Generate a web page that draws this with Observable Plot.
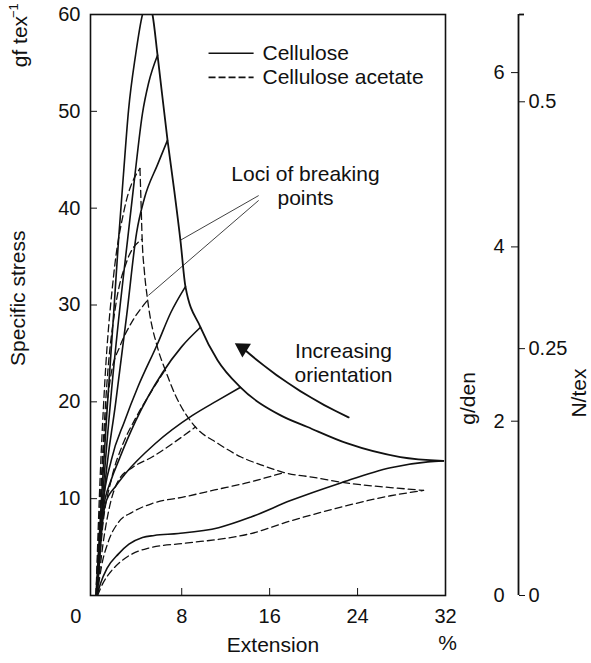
<!DOCTYPE html>
<html><head><meta charset="utf-8">
<script src="https://cdn.jsdelivr.net/npm/d3@7"></script>
<script src="https://cdn.jsdelivr.net/npm/@observablehq/plot@0.6"></script>
<style>
html,body{margin:0;padding:0;background:#fff;}
#chart svg{font-family:"Liberation Sans",Arial,Helvetica,sans-serif;}
</style></head><body><div id="chart"></div>
<script>
// ---- Data (extension %, specific stress gf/tex) ----
const cellulose1 = [[0.2,0],[0.7,10],[1.2,19],[1.8,29],[2.25,36.7],[2.7,43.5],[3.16,50.1],[3.8,55.8],[4.43,60],[4.9,61.3]];
const cellulose2 = [[0.25,0],[0.8,10],[1.6,21],[2.4,30],[3.07,36.7],[3.7,43],[4.43,49.8],[4.98,52.9],[5.8,55.8]];
const cellulose3 = [[0.3,0],[0.9,10],[2.0,20],[3.0,29],[3.9,37.5],[4.6,41],[5.8,44.5],[6.7,47]];
const cellulose4 = [[0.3,0],[0.8,9],[1.6,14],[2.8,18],[4.0,21.5],[5.8,26],[7.0,29.2],[8.34,31.9]];
const cellulose5 = [[0.3,0],[0.8,8.5],[1.6,12],[2.25,13.9],[3.8,18.0],[6.25,23],[8.0,25.7],[9.71,27.7]];
const cellulose6 = [[0.3,0],[0.7,6.5],[1.06,9.5],[2.0,11.3],[2.88,12.6],[5.6,15.7],[8.98,18.6],[11.2,20.1],[13.35,21.5]];
const cellulose7 = [[0.3,0],[0.6,1.2],[1.2,2.8],[2.25,4.3],[3.2,5.3],[4.43,6.0],[5.5,6.2],[7.7,6.4],[11.35,7.0],[14.3,8.1],[17.9,9.8],[22.4,11.6],[27.0,13.2],[30.4,13.8],[31.8,13.9]];
const acetate1 = [[0.35,0],[0.8,1.2],[1.5,2.4],[2.25,3.3],[3.5,4.3],[5.0,4.9],[8.3,5.4],[12.0,5.9],[14.3,6.4],[17.9,7.7],[22.4,9.1],[27.0,10.3],[30.0,10.85]];
const acetate2 = [[0.3,0],[0.7,3],[1.3,5.5],[2.2,7.5],[3.5,8.6],[5.3,9.5],[8.3,10.2],[11.0,10.9],[13.8,11.6],[17.3,12.7]];
const acetate3 = [[0.3,0],[0.8,5],[1.4,9],[2.25,11.9],[3.5,13.2],[5.3,14.3],[7.3,15.8],[9.25,17.4]];
const acetate4 = [[0.3,0],[0.8,7],[1.6,12],[2.6,15.5],[3.8,18.3],[5.2,21],[6.5,23.3]];
const acetate5 = [[0.25,0],[0.6,9],[1.0,17],[1.52,22.5],[2.4,25.8],[3.34,28],[4.9,30.5]];
const acetate6 = [[0.2,0],[0.6,10],[1.2,22],[2.0,30],[3.0,34.5],[4.4,36.8]];
const acetate7 = [[0.2,0],[0.5,10],[1.0,22],[1.8,33],[2.8,40],[4.2,44.1]];
const celluloseLocus = [[4.9,61.3],[5.34,60],[5.8,55.8],[6.71,47],[7.3,42],[7.9,36.5],[8.34,31.9],[9.71,27.7],[11.26,24.3],[13.35,21.5],[17.0,18.6],[19.45,17.4],[23.08,15.7],[27.9,14.3],[31.8,13.9]];
const acetateLocus = [[4.2,44.1],[4.3,40.5],[4.4,36.8],[4.6,33.5],[4.9,30.5],[5.8,25.6],[6.5,23.3],[7.5,20.5],[9.25,17.4],[11.3,15.7],[13.4,14.3],[15.2,13.5],[17.3,12.7],[20,12.2],[23.1,11.6],[27,11.15],[30.0,10.85]];

const xTicks = [0, 8, 16, 24, 32];
const yTicks = [10, 20, 30, 40, 50, 60];
const gdenTicks = [0, 2, 4, 6];          // g/den
const ntexTicks = [0, 0.25, 0.5];        // N/tex
const GF_PER_GDEN = 9;                   // 1 g/den = 9 gf/tex
const GF_PER_NTEX = 1000 / 9.80665;      // 1 N/tex = 101.97 gf/tex

// annotation anchors (data units)
const lociPointers = [
  {x1: 15.0, y1: 41.3, x2: 7.9, y2: 36.7},
  {x1: 15.0, y1: 40.8, x2: 4.98, y2: 31.0}
];
const orientationArrow = [{x1: 23.18, y1: 18.4, x2: 13.7, y2: 25.4}];
const arrowHead = [{x: 13.55, y: 25.55}];
const notes = [
  {x: 19.26, y: 42.35, text: "Loci of breaking\npoints"},
  {x: 22.72, y: 24.1, text: "Increasing\norientation"}
];
const legendLabels = ["Cellulose", "Cellulose acetate"];
const legendY = [56.0, 53.5];

// ---- Build tables ----
const toRows = (arr, id) => arr.map(([x, y]) => ({id, x, y}));
const cellRows = [cellulose1,cellulose2,cellulose3,cellulose4,cellulose5,cellulose6,cellulose7].flatMap((a,i)=>toRows(a,"c"+i));
const aceRows = [acetate1,acetate2,acetate3,acetate4,acetate5,acetate6,acetate7].flatMap((a,i)=>toRows(a,"a"+i));
const cellLocusRows = toRows(celluloseLocus, "cl");
const aceLocusRows = toRows(acetateLocus, "al");
const legendRows = legendLabels.map((label, i) => ({label, y: legendY[i]}));

const ink = "#111";
const T = 21; // text size
const chart = Plot.plot({
  width: 591, height: 663,
  marginLeft: 90, marginRight: 146, marginTop: 14, marginBottom: 68,
  style: {fontSize: "20px", color: ink, background: "#fff", overflow: "visible"},
  x: {domain: [-0.3, 32], axis: null},
  y: {domain: [0, 60], axis: null},
  marks: [
    // curves
    Plot.line(cellRows, {x: "x", y: "y", z: "id", stroke: ink, strokeWidth: 1.6, curve: "monotone-x", clip: true}),
    Plot.line(aceRows, {x: "x", y: "y", z: "id", stroke: ink, strokeWidth: 1.3, strokeDasharray: "7,4", curve: "monotone-x", clip: true}),
    Plot.line(cellLocusRows, {x: "x", y: "y", stroke: ink, strokeWidth: 1.8, curve: "monotone-x", clip: true}),
    Plot.line(aceLocusRows, {x: "x", y: "y", stroke: ink, strokeWidth: 1.3, strokeDasharray: "7,4", curve: "monotone-x", clip: true}),
    // annotations
    Plot.link(lociPointers, {x1: "x1", y1: "y1", x2: "x2", y2: "y2", stroke: ink, strokeWidth: 0.8}),
    Plot.arrow(orientationArrow, {x1: "x1", y1: "y1", x2: "x2", y2: "y2", bend: 8, headLength: 0, stroke: ink, strokeWidth: 2}),
    Plot.dot(arrowHead, {x: "x", y: "y", symbol: "triangle", r: 6, rotate: -58, fill: ink, stroke: null}),
    Plot.text(notes, {x: "x", y: "y", text: "text", fontSize: T, lineHeight: 1.15, fill: ink}),
    // legend
    Plot.link(legendRows.slice(0, 1), {x1: 10.44, x2: 14.54, y1: "y", y2: "y", stroke: ink, strokeWidth: 1.6}),
    Plot.link(legendRows.slice(1), {x1: 10.44, x2: 14.54, y1: "y", y2: "y", stroke: ink, strokeWidth: 1.8, strokeDasharray: "7,3"}),
    Plot.text(legendRows, {x: 15.35, y: "y", text: "label", textAnchor: "start", fontSize: T, fill: ink}),
    // frame + left/bottom axes
    Plot.frame({stroke: ink, strokeWidth: 1.6}),
    Plot.axisY([10, 20, 30, 40, 50], {tickSize: 7, dx: 7, stroke: ink, fill: "none", label: null}),
    Plot.axisY(yTicks, {tickSize: 0, tickPadding: 10, fontSize: 20, fill: ink, label: null}),
    Plot.axisX([8, 16, 24], {tickSize: 7, dy: -7, stroke: ink, fill: "none", label: null}),
    Plot.axisX(xTicks.filter(d => d > 0), {tickSize: 0, tickPadding: 13, fontSize: 20, fill: ink, label: null}),
    Plot.axisX([0], {tickSize: 0, tickPadding: 13, dx: -18, fontSize: 20, fill: ink, label: null}),
    Plot.text(["Extension"], {x: 16.3, frameAnchor: "bottom", dy: 50, textAnchor: "middle", lineAnchor: "middle", fontSize: T, fill: ink}),
    Plot.text(["%"], {x: 32, frameAnchor: "bottom", dy: 48, dx: 2, textAnchor: "middle", lineAnchor: "middle", fontSize: T, fill: ink}),
    Plot.text(["Specific stress"], {y: 30.7, frameAnchor: "left", dx: -72, rotate: -90, textAnchor: "middle", lineAnchor: "middle", fontSize: T, fill: ink}),
    Plot.text(["gf tex"], {y: 57.2, frameAnchor: "left", dx: -70, rotate: -90, textAnchor: "middle", lineAnchor: "middle", fontSize: T, fill: ink}),
    Plot.text(["\u22121"], {y: 60.4, frameAnchor: "left", dx: -77, rotate: -90, textAnchor: "middle", lineAnchor: "middle", fontSize: 13, fill: ink}),
    // secondary right axis (g/den on left side, N/tex on right side)
    Plot.ruleX([32], {dx: 73, stroke: ink, strokeWidth: 1.8}),
    Plot.axisY([60], {anchor: "right", tickSize: 5, dx: 73, stroke: ink, strokeWidth: 1.8, fill: "none", label: null}),
    Plot.axisY(gdenTicks.slice(1).map(d => d * GF_PER_GDEN), {anchor: "left", tickSize: 7, dx: 428, stroke: ink, fill: "none", label: null}),
    Plot.axisY(gdenTicks.map(d => d * GF_PER_GDEN), {anchor: "left", tickSize: 7, tickPadding: 7, dx: 428, stroke: "none", fontSize: 20, fill: ink, label: null, tickFormat: d => String(Math.round(d / GF_PER_GDEN))}),
    Plot.axisY(ntexTicks.map(d => d * GF_PER_NTEX), {anchor: "right", tickSize: 6, tickPadding: 4, dx: 73, stroke: ink, fontSize: 20, fill: ink, label: null, tickFormat: d => String(Math.round(d / GF_PER_NTEX * 100) / 100)}),
    Plot.text(["g/den"], {y: 20.35, frameAnchor: "right", dx: 23, rotate: -90, textAnchor: "middle", lineAnchor: "middle", fontSize: T, fill: ink}),
    Plot.text(["N/tex"], {y: 20.9, frameAnchor: "right", dx: 134, rotate: -90, textAnchor: "middle", lineAnchor: "middle", fontSize: T, fill: ink})
  ]
});
document.getElementById("chart").append(chart);
</script>
</body></html>
